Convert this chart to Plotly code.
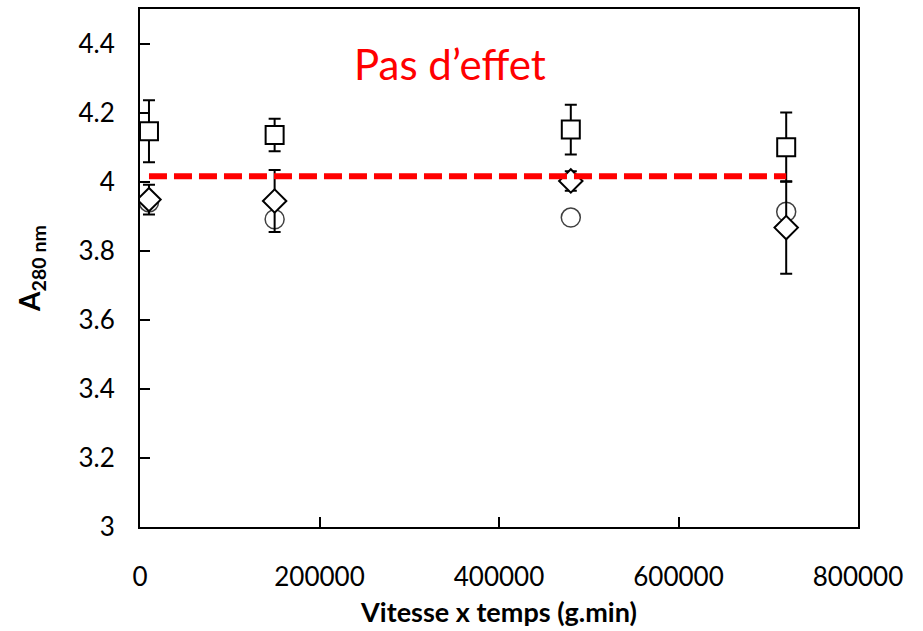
import plotly.graph_objects as go

x_vals = [10000, 150000, 480000, 720000]
square_y = [4.146, 4.135, 4.151, 4.100]
square_err = [0.09, 0.047, 0.072, 0.10]
diamond_y = [3.948, 3.944, 4.002, 3.867]
diamond_err = [0.043, 0.09, 0.028, 0.134]
circle_y = [3.940, 3.891, 3.896, 3.913]
ref_x = [10000, 720000]
ref_y = [4.016, 4.016]
y_ticks = [3, 3.2, 3.4, 3.6, 3.8, 4, 4.2, 4.4]
x_ticks = [0, 200000, 400000, 600000, 800000]

font = "Lato"
fig = go.Figure()

fig.add_trace(go.Scatter(
    x=x_vals, y=circle_y, mode="markers",
    marker=dict(symbol="circle-open", size=19, color="#404040", line=dict(width=1.5)),
    showlegend=False))
fig.add_trace(go.Scatter(
    x=x_vals, y=square_y, mode="markers",
    error_y=dict(type="data", array=square_err, color="black", thickness=2, width=6),
    marker=dict(symbol="square", size=18, color="white", line=dict(color="black", width=2)),
    showlegend=False))
fig.add_trace(go.Scatter(
    x=x_vals, y=diamond_y, mode="markers",
    error_y=dict(type="data", array=diamond_err, color="black", thickness=2, width=6),
    marker=dict(symbol="diamond", size=18, color="white", line=dict(color="black", width=2)),
    showlegend=False))
fig.add_trace(go.Scatter(
    x=ref_x, y=ref_y, mode="lines",
    line=dict(color="#ff0000", width=6, dash="18px,7px"),
    showlegend=False))

fig.add_annotation(x=345000, y=4.34, text="Pas d\u2019effet", showarrow=False,
                   font=dict(family=font, size=42, color="#ff0000"))

fig.update_layout(
    width=923, height=631,
    margin=dict(l=140, r=65, t=7, b=104),
    plot_bgcolor="white", paper_bgcolor="white",
    font=dict(family=font, color="black", size=26),
    xaxis=dict(range=[0, 800000], tickvals=x_ticks, tickformat="d",
               showline=True, linecolor="black", linewidth=2, mirror=True,
               ticks="inside", ticklen=10, tickwidth=1.5, tickcolor="black",
               showgrid=False, zeroline=False, ticklabelstandoff=26,
               title=dict(text="<b>Vitesse x temps (g.min)</b>", font=dict(size=27), standoff=12)),
    yaxis=dict(range=[3, 4.5], tickvals=y_ticks,
               showline=True, linecolor="black", linewidth=2, mirror=True,
               ticks="inside", ticklen=10, tickwidth=1.5, tickcolor="black",
               showgrid=False, zeroline=False, ticklabelstandoff=18,
               title=dict(text="<b>A<sub>280 nm</sub></b>", font=dict(size=28), standoff=30)),
)

fig.write_html("out.html")
